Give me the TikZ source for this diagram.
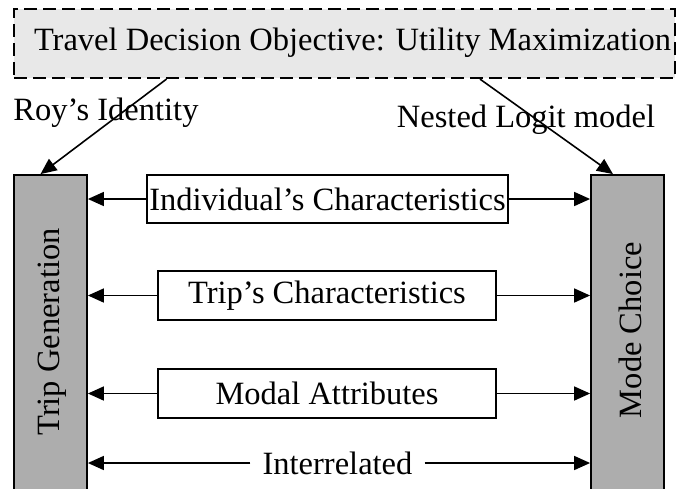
\documentclass[tikz,border=0pt]{standalone}
\usepackage{fontspec}
\setmainfont{Liberation Serif}
\usetikzlibrary{arrows.meta}
\begin{document}
\begin{tikzpicture}[x=1pt,y=-1pt,
  txt/.style={font=\fontsize{32.5}{36}\selectfont, inner sep=0pt},
  goalbox/.style={draw, dashed, dash pattern=on 13pt off 6pt, line width=2.2pt,
    fill=black!9, minimum width=661pt, minimum height=69pt, inner sep=0pt},
  stage/.style={draw, line width=1.8pt, fill=black!32,
    minimum width=73pt, minimum height=330pt, inner sep=0pt},
  factor/.style={draw, line width=1.8pt, fill=white, inner sep=0pt,
    font=\fontsize{32.5}{36}\selectfont},
  tip/.tip={Triangle[length=16pt,width=14pt]},
  arr/.style={line width=1.6pt, -tip}
]
\clip (0,0) rectangle (679,488);
\useasboundingbox (0,0) rectangle (679,488);

% objective box at the top
\node[goalbox] (goal) at (344.5,43.5) {};
\node[txt, anchor=base] (goaltext) at (352.5,50) {Travel Decision Objective: Utility Maximization};

% the two linked stages
\node[stage] (tg) at (50.5,340) {};
\node[txt, rotate=90] (tgtext) at (52,332) {Trip Generation};
\node[stage] (mc) at (627.5,340) {};
\node[txt, rotate=90] (mctext) at (630,330) {Mode Choice};

% method labels
\node[txt, anchor=base] (roy) at (106,120) {Roy's Identity};
\node[txt, anchor=base] (nlm) at (526,127) {Nested Logit model};

\draw[arr] ([xshift=-178pt]goal.south) -- ([xshift=-10pt]tg.north);
\draw[arr] ([xshift=135.5pt]goal.south) -- ([xshift=-14.5pt]mc.north);

% shared factors
\node[factor, minimum width=361pt, minimum height=48pt] (ind) at (327.5,199) {Individual's Characteristics};
\node[factor, minimum width=338pt, minimum height=49pt] (trip) at (327,295.5) {Trip's Characteristics};
\node[factor, minimum width=338pt, minimum height=49pt] (modal) at (327,393.5) {Modal Attributes};
\node[txt, inner xsep=12pt, inner ysep=4pt] (inter) at (337.5,463) {Interrelated};

\foreach \n in {ind,trip,modal,inter}{
  \draw[arr] (\n.west) -- (\n.west -| tg.east);
  \draw[arr] (\n.east) -- (\n.east -| mc.west);
}
\end{tikzpicture}
\end{document}
